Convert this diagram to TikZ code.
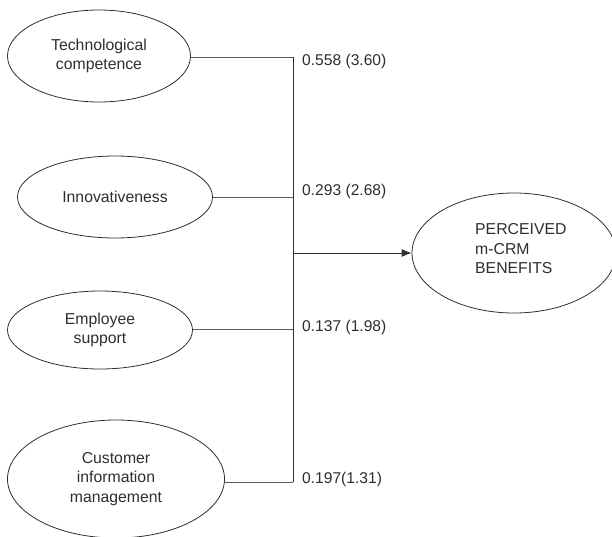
\documentclass[tikz,border=0pt]{standalone}
\usepackage{fontspec}
\setmainfont{Liberation Sans}
\usetikzlibrary{shapes.geometric,arrows.meta}
\definecolor{ink}{HTML}{2E2E2E}
\definecolor{wire}{HTML}{5A5A5A}
\begin{document}
\begin{tikzpicture}[x=1pt,y=-1pt,
  construct/.style={ellipse,draw=ink,line width=0.8pt,inner sep=0pt,text=ink,
    align=center,font=\fontsize{15.8}{19.5}\selectfont},
  coef/.style={anchor=west,inner sep=0pt,text=ink,font=\fontsize{15.6}{19}\selectfont},
  feed/.style={draw=wire,line width=0.9pt},
  spine/.style={draw=ink,line width=0.9pt}]
\useasboundingbox (0,0) rectangle (612,536);
\node[construct,minimum width=183pt,minimum height=92pt] (tech) at (99,56) {Technological\\competence};
\node[construct,minimum width=195pt,minimum height=82pt] (innov) at (115,197) {Innovativeness};
\node[construct,minimum width=185pt,minimum height=78pt] (emp) at (100,330) {Employee\\support};
\node[construct,minimum width=217pt,minimum height=118pt] (cust) at (116,479) {Customer\\information\\management};
\node[ellipse,draw=ink,line width=0.8pt,inner sep=0pt,minimum width=204pt,minimum height=120pt] (perc) at (514,253) {};
\node[anchor=west,align=left,inner sep=0pt,text=ink,font=\fontsize{15.8}{19.5}\selectfont] (perctext) at (475,249) {PERCEIVED\\m-CRM\\BENEFITS};
\coordinate (j1) at (293,57);
\coordinate (j2) at (293,197);
\coordinate (j3) at (293,329);
\coordinate (j4) at (293,482);
\coordinate (jm) at (293,253);
\draw[feed] (tech.east |- j1) -- (j1);
\draw[feed] (innov.east) -- (j2);
\draw[feed] (emp.east |- j3) -- (j3);
\draw[feed] (cust.east |- j4) -- (j4);
\draw[spine] (j1) -- (j4);
\draw[spine,-{Latex[length=10pt,width=8pt]}] (jm) -- (perc.west);
\node[coef] (c1) at (302,61) {0.558 (3.60)};
\node[coef] (c2) at (302,191) {0.293 (2.68)};
\node[coef] (c3) at (302,327) {0.137 (1.98)};
\node[coef] (c4) at (302,479) {0.197(1.31)};
\end{tikzpicture}
\end{document}
